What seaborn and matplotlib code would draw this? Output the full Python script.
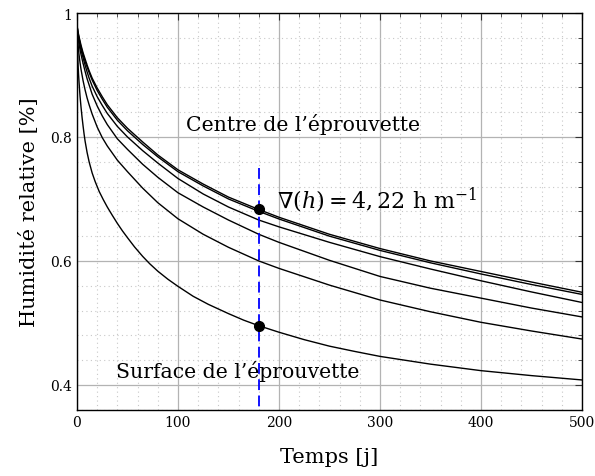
import numpy as np
import pandas as pd
import matplotlib
matplotlib.use("Agg")
import matplotlib.pyplot as plt
from matplotlib.ticker import MultipleLocator
import seaborn as sns

# time axis [j] for the inner curves
temps = [0, 1, 2, 3, 4, 6, 8, 10, 12, 15, 20, 25, 30, 40, 50, 65, 80, 100,
         125, 150, 180, 200, 250, 300, 350, 400, 450, 500]

# relative humidity, from the centre of the specimen outwards
h_centre = [0.98, 0.970, 0.962, 0.955, 0.948, 0.936, 0.926, 0.916, 0.907, 0.895,
            0.879, 0.865, 0.852, 0.831, 0.814, 0.792, 0.771, 0.747, 0.724, 0.703,
            0.683, 0.6705, 0.643, 0.620, 0.600, 0.583, 0.566, 0.5495]
h_2 = [0.98, 0.968, 0.960, 0.952, 0.945, 0.933, 0.922, 0.913, 0.904, 0.892,
       0.875, 0.861, 0.848, 0.827, 0.810, 0.788, 0.768, 0.744, 0.721, 0.700,
       0.680, 0.6677, 0.640, 0.617, 0.597, 0.579, 0.562, 0.546]
h_3 = [0.98, 0.965, 0.957, 0.948, 0.940, 0.928, 0.916, 0.905, 0.895, 0.882,
       0.865, 0.851, 0.838, 0.817, 0.800, 0.778, 0.758, 0.733, 0.708, 0.687,
       0.666, 0.655, 0.630, 0.607, 0.587, 0.568, 0.550, 0.533]
h_4 = [0.98, 0.962, 0.950, 0.941, 0.933, 0.919, 0.906, 0.894, 0.884, 0.869,
       0.850, 0.834, 0.820, 0.797, 0.780, 0.756, 0.735, 0.710, 0.687, 0.666,
       0.643, 0.630, 0.601, 0.575, 0.556, 0.540, 0.524, 0.5097]
h_5 = [0.98, 0.950, 0.933, 0.920, 0.909, 0.891, 0.876, 0.863, 0.852, 0.837,
       0.816, 0.799, 0.7855, 0.7625, 0.744, 0.7175, 0.694, 0.668, 0.643, 0.622,
       0.600, 0.588, 0.561, 0.537, 0.518, 0.501, 0.487, 0.474]

# surface curve, read on a finer time step (it bends much more)
temps_surface = [0, 0.5, 1, 1.5, 2, 3, 4, 5, 6, 7, 8, 10, 12, 15, 18, 22, 26, 30,
                 35, 40, 45, 50, 57, 65, 72, 80, 90, 100, 115, 130, 150, 165, 180,
                 200, 225, 250, 275, 300, 350, 400, 450, 500]
h_surface = [0.98, 0.940, 0.918, 0.902, 0.889, 0.866, 0.848, 0.832, 0.818, 0.805,
             0.7935, 0.775, 0.760, 0.742, 0.728, 0.712, 0.699, 0.687, 0.6735, 0.6605,
             0.6485, 0.6375, 0.6226, 0.6074, 0.5955, 0.5835, 0.5705, 0.559, 0.543,
             0.530, 0.515, 0.5045, 0.4955, 0.485, 0.473, 0.4625, 0.454, 0.446,
             0.4335, 0.423, 0.415, 0.408]

courbes = {"c1": (temps, h_centre), "c2": (temps, h_2), "c3": (temps, h_3),
           "c4": (temps, h_4), "c5": (temps, h_5), "c6": (temps_surface, h_surface)}

# marked points at t = 180 j
t_marque = [180, 180]
h_marque = [0.6845, 0.4957]
t_coupe = [180, 180]
h_coupe = [0.75, 0.36]

df = pd.concat([pd.DataFrame({"Temps": t, "HR": h, "courbe": k})
                for k, (t, h) in courbes.items()], ignore_index=True)

sns.set_theme(style="white")
plt.rcParams["font.family"] = ["DejaVu Serif"]
plt.rcParams["mathtext.fontset"] = "dejavuserif"
plt.rcParams["text.color"] = "black"
plt.rcParams["axes.labelcolor"] = "black"

fig = plt.figure(figsize=(5.95, 4.77), dpi=100)
ax = fig.add_axes([0.1294, 0.139, 0.8487, 0.8316])

sns.lineplot(data=df, x="Temps", y="HR", units="courbe", estimator=None,
             color="black", linewidth=1.0, sort=False, ax=ax)

ax.plot(t_coupe, h_coupe, color="#0000ff", linestyle=(0, (6, 3)), linewidth=1.3)
ax.plot(t_marque, h_marque, "o", color="black", markersize=7)

ax.set_xlim(0, 500)
ax.set_ylim(0.36, 1.0)
ax.xaxis.set_major_locator(MultipleLocator(100))
ax.xaxis.set_minor_locator(MultipleLocator(20))
ax.yaxis.set_minor_locator(MultipleLocator(0.04))
ax.set_yticks([0.4, 0.6, 0.8, 1.0])
ax.set_yticklabels(["0.4", "0.6", "0.8", "1"])

ax.grid(which="major", color="#b3b3b3", linewidth=0.9, linestyle="-")
ax.grid(which="minor", color="#c8c8c8", linewidth=0.8, linestyle=(0, (1, 3)))
ax.set_axisbelow(True)

ax.tick_params(which="both", direction="in", top=True, right=True,
               colors="#333333", labelcolor="black")
ax.tick_params(which="major", length=5, width=0.8, labelsize=10)
ax.tick_params(which="minor", length=3, width=0.6)
for s in ax.spines.values():
    s.set_color("black")
    s.set_linewidth(1.0)

ax.set_xlabel("Temps [j]", fontsize=15, labelpad=13)
ax.set_ylabel("Humidité relative [%]", fontsize=15, labelpad=8)

ax.text(107.5, 0.821, "Centre de l’éprouvette", fontsize=14.7, va="center", ha="left")
ax.text(39, 0.4226, "Surface de l’éprouvette", fontsize=14.7, va="center", ha="left")
ax.text(198, 0.700, r"$\nabla(h) = 4,22\ \mathrm{h\ m^{-1}}$", fontsize=16,
        va="center", ha="left")

fig.savefig("out.png", dpi=100)
